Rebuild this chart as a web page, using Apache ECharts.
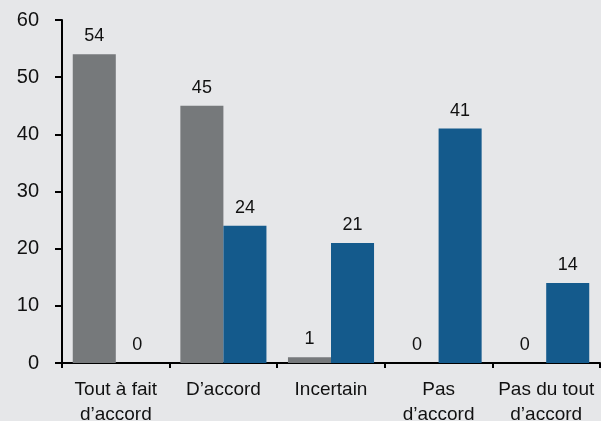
<!DOCTYPE html>
<html>
<head>
<meta charset="utf-8">
<script src="https://cdn.jsdelivr.net/npm/echarts@6/dist/echarts.min.js"></script>
<style>
html,body{margin:0;padding:0;background:#e6e7e9;}
#c{width:601px;height:421px;}
</style>
</head>
<body>
<div id="c"></div>
<script>
const categories = ["Tout à fait\nd’accord", "D’accord", "Incertain", "Pas\nd’accord", "Pas du tout\nd’accord"];
const seriesGray = [54, 45, 1, 0, 0];
const seriesBlue = [0, 24, 21, 41, 14];
const yTicks = {min: 0, max: 60, interval: 10};

const font = "Liberation Sans";
const chart = echarts.init(document.getElementById('c'));
const labelStyle = {show: true, position: 'top', distance: 9, color: '#111', fontSize: 18, fontFamily: font};
chart.setOption({
  backgroundColor: '#e6e7e9',
  animation: false,
  grid: {left: 62, right: 1, top: 20, bottom: 58, containLabel: false, outerBoundsMode: 'none'},
  xAxis: {
    type: 'category',
    data: categories,
    axisLine: {lineStyle: {color: '#000', width: 2}},
    axisTick: {show: true, inside: false, length: 5, lineStyle: {color: '#000', width: 2}},
    axisLabel: {color: '#111', fontSize: 19, fontFamily: font, margin: 14, lineHeight: 25, interval: 0}
  },
  yAxis: {
    type: 'value',
    min: yTicks.min, max: yTicks.max, interval: yTicks.interval,
    splitLine: {show: false},
    axisLine: {show: true, lineStyle: {color: '#000', width: 2}},
    axisTick: {show: true, length: 7, lineStyle: {color: '#000', width: 2}},
    axisLabel: {color: '#111', fontSize: 20, fontFamily: font, margin: 23}
  },
  series: [
    {type: 'bar', data: seriesGray, itemStyle: {color: '#76797b'}, barGap: '0%', barCategoryGap: '20%', label: labelStyle},
    {type: 'bar', data: seriesBlue, itemStyle: {color: '#145a8c'}, barGap: '0%', barCategoryGap: '20%', label: labelStyle}
  ]
});
</script>
</body>
</html>
